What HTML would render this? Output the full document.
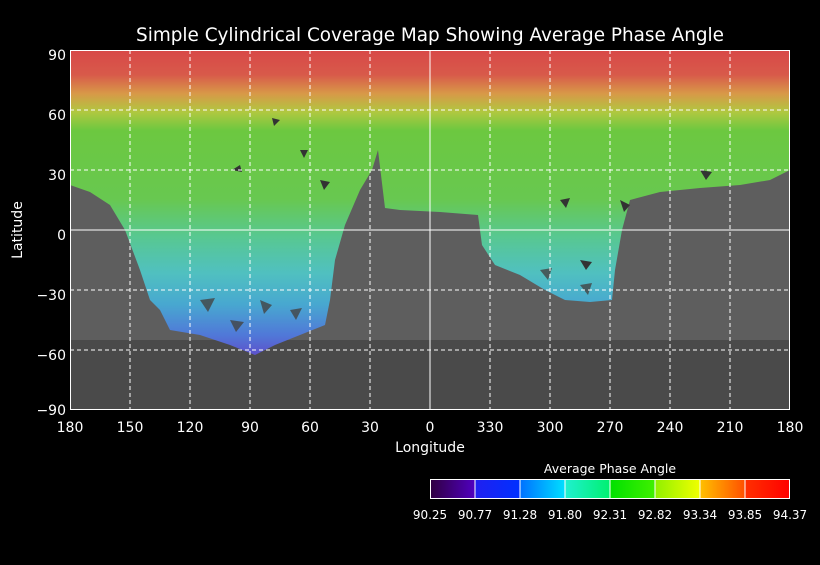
<!DOCTYPE html>
<html><head><meta charset="utf-8"><style>
html,body{margin:0;padding:0;background:#000;}
svg text{font-family:"DejaVu Sans","Liberation Sans",sans-serif;fill:#fff;}
</style></head><body>
<svg width="820" height="560" viewBox="0 0 820 560" xmlns="http://www.w3.org/2000/svg">
<defs>
<linearGradient id="cov" x1="0" y1="50" x2="0" y2="360" gradientUnits="userSpaceOnUse">
<stop offset="0" stop-color="#d84848"/>
<stop offset="0.08" stop-color="#d85a4a"/>
<stop offset="0.14" stop-color="#d89848"/>
<stop offset="0.2" stop-color="#b0c840"/>
<stop offset="0.26" stop-color="#6cc840"/>
<stop offset="0.48" stop-color="#68c850"/>
<stop offset="0.6" stop-color="#58c890"/>
<stop offset="0.72" stop-color="#50c0c0"/>
<stop offset="0.82" stop-color="#48a8d0"/>
<stop offset="0.92" stop-color="#5078d8"/>
<stop offset="1" stop-color="#6048c8"/>
</linearGradient>
<linearGradient id="cb" x1="430" x2="790" y1="0" y2="0" gradientUnits="userSpaceOnUse">
<stop offset="0" stop-color="#300040"/>
<stop offset="0.125" stop-color="#5000c0"/>
<stop offset="0.125" stop-color="#2020f0"/>
<stop offset="0.25" stop-color="#0030ff"/>
<stop offset="0.25" stop-color="#0070ff"/>
<stop offset="0.375" stop-color="#00e0ff"/>
<stop offset="0.375" stop-color="#20f0d0"/>
<stop offset="0.5" stop-color="#00f070"/>
<stop offset="0.5" stop-color="#00e000"/>
<stop offset="0.625" stop-color="#40f000"/>
<stop offset="0.625" stop-color="#90f000"/>
<stop offset="0.75" stop-color="#f0ff00"/>
<stop offset="0.75" stop-color="#ffc000"/>
<stop offset="0.875" stop-color="#ff5000"/>
<stop offset="0.875" stop-color="#ff3000"/>
<stop offset="1" stop-color="#ff0000"/>
</linearGradient>
</defs>
<text x="430" y="41" font-size="18.4" text-anchor="middle">Simple Cylindrical Coverage Map Showing Average Phase Angle</text>
<rect x="70" y="50" width="720" height="360" fill="#5e5e5e"/>
<rect x="70" y="340" width="720" height="70" fill="#4a4a4a"/>
<path fill="url(#cov)" d="M70,50 H790 V170 L770,180 L740,185 L700,188 L660,192 L630,200 L622,230 L615,270 L612,300 L590,302 L565,300 L545,290 L520,275 L495,265 L482,245 L478,215 L440,212 L400,210 L385,208 L378,150 L372,170 L360,190 L345,225 L335,260 L330,300 L325,325 L300,335 L275,345 L255,355 L230,345 L200,335 L170,330 L160,310 L150,300 L140,270 L125,230 L110,205 L90,192 L70,185 Z"/>
<g fill="#444" opacity="0.8">
<polygon points="200,300 215,298 208,312"/><polygon points="260,300 272,305 264,314"/>
<polygon points="290,310 302,308 296,320"/><polygon points="230,320 244,322 236,332"/>
<polygon points="540,270 552,268 548,280"/><polygon points="580,285 592,283 588,295"/>
</g>
<g fill="#333">
<polygon points="232,170 240,165 242,172"/><polygon points="272,118 280,120 274,126"/>
<polygon points="300,150 308,150 304,158"/><polygon points="320,180 330,182 324,190"/>
<polygon points="560,200 570,198 566,208"/><polygon points="700,170 712,172 706,180"/>
<polygon points="580,260 592,262 586,270"/><polygon points="620,200 630,205 624,212"/>
</g>
<g stroke="#fff" stroke-width="1" fill="none">
<g stroke-dasharray="4,3">
<line x1="70" y1="110" x2="790" y2="110"/><line x1="70" y1="170" x2="790" y2="170"/>
<line x1="70" y1="290" x2="790" y2="290"/><line x1="70" y1="350" x2="790" y2="350"/>
<line x1="130" y1="50" x2="130" y2="410"/><line x1="190" y1="50" x2="190" y2="410"/>
<line x1="250" y1="50" x2="250" y2="410"/><line x1="310" y1="50" x2="310" y2="410"/>
<line x1="370" y1="50" x2="370" y2="410"/><line x1="490" y1="50" x2="490" y2="410"/>
<line x1="550" y1="50" x2="550" y2="410"/><line x1="610" y1="50" x2="610" y2="410"/>
<line x1="670" y1="50" x2="670" y2="410"/><line x1="730" y1="50" x2="730" y2="410"/>
</g>
<line x1="70" y1="230" x2="790" y2="230"/><line x1="430" y1="50" x2="430" y2="410"/>
<rect x="70.5" y="50.5" width="719" height="359"/>
</g>
<g font-size="14" text-anchor="end">
<text x="66" y="60">90</text><text x="66" y="120">60</text><text x="66" y="180">30</text>
<text x="66" y="240">0</text><text x="66" y="300">−30</text><text x="66" y="360">−60</text><text x="66" y="415">−90</text>
</g>
<g font-size="14" text-anchor="middle">
<text x="70" y="432">180</text><text x="130" y="432">150</text><text x="190" y="432">120</text>
<text x="250" y="432">90</text><text x="310" y="432">60</text><text x="370" y="432">30</text>
<text x="430" y="432">0</text><text x="490" y="432">330</text><text x="550" y="432">300</text>
<text x="610" y="432">270</text><text x="670" y="432">240</text><text x="730" y="432">210</text><text x="790" y="432">180</text>
</g>
<text x="430" y="452" font-size="14" text-anchor="middle">Longitude</text>
<text transform="translate(22,230) rotate(-90)" font-size="14" text-anchor="middle">Latitude</text>
<text x="610" y="473" font-size="12.5" text-anchor="middle">Average Phase Angle</text>
<rect x="430.5" y="479.5" width="359" height="19" fill="url(#cb)" stroke="#fff"/>
<g stroke="#fff"><line x1="475" y1="480" x2="475" y2="498"/><line x1="520" y1="480" x2="520" y2="498"/><line x1="565" y1="480" x2="565" y2="498"/><line x1="610" y1="480" x2="610" y2="498"/><line x1="655" y1="480" x2="655" y2="498"/><line x1="700" y1="480" x2="700" y2="498"/><line x1="745" y1="480" x2="745" y2="498"/></g>
<g font-size="12" text-anchor="middle">
<text x="430" y="519">90.25</text><text x="475" y="519">90.77</text><text x="520" y="519">91.28</text>
<text x="565" y="519">91.80</text><text x="610" y="519">92.31</text><text x="655" y="519">92.82</text>
<text x="700" y="519">93.34</text><text x="745" y="519">93.85</text><text x="790" y="519">94.37</text>
</g>
</svg>
</body></html>
